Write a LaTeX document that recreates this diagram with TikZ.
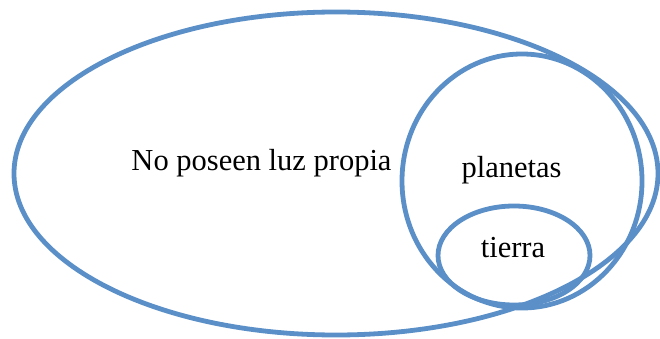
\documentclass[tikz,border=0pt]{standalone}
\usepackage{fontspec}
\setmainfont{Liberation Serif}
\usetikzlibrary{shapes.geometric}
\definecolor{setblue}{HTML}{5B8FC7}
\tikzset{
  setline/.style={draw=setblue, line width=4.8pt, ellipse, inner sep=0pt},
  lbl/.style={font=\fontsize{30.5}{36}\selectfont, anchor=base, inner sep=0pt, text=black}
}
\begin{document}
\begin{tikzpicture}[x=1pt,y=-1pt]
\useasboundingbox (0,0) rectangle (660,339);
\node[setline, minimum width=644pt, minimum height=323pt] (luz) at (336,173.5) {};
\node[setline, minimum width=240pt, minimum height=254pt] (planetas) at (522,181) {};
\node[setline, minimum width=152pt, minimum height=99pt] (tierra) at (514,255.5) {};
\node[lbl] (tluz) at (261.5,170) {No poseen luz propia};
\node[lbl] (tplan) at (511.5,177) {planetas};
\node[lbl] (ttie) at (513,257) {tierra};
\end{tikzpicture}
\end{document}
